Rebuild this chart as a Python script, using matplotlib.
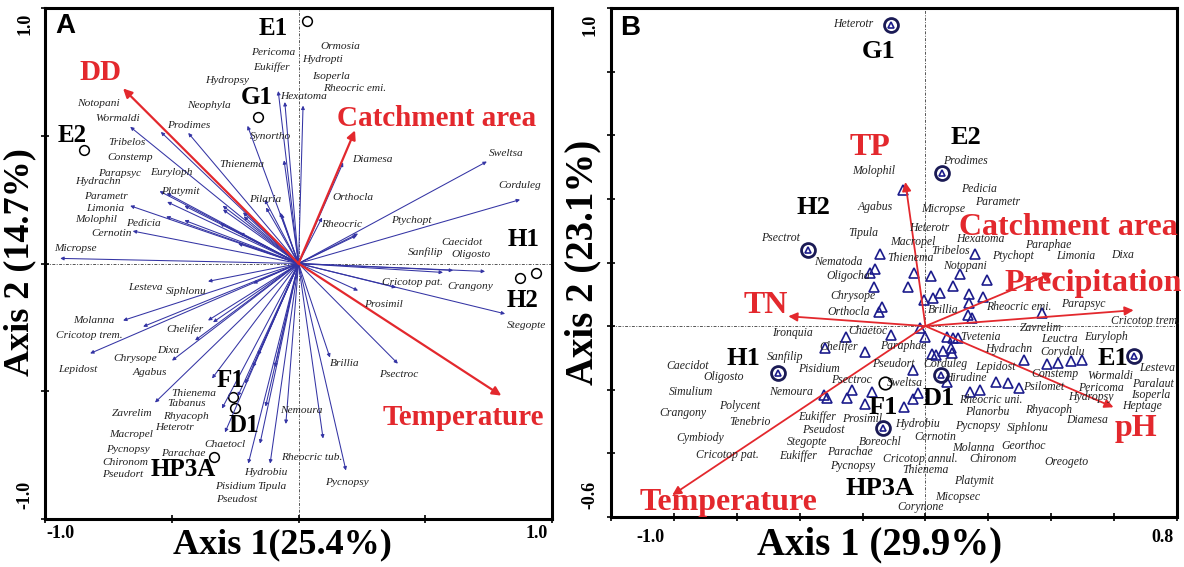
import matplotlib
matplotlib.use("Agg")
import matplotlib.pyplot as plt
import numpy as np

W, H = 1184, 567
SERIF = ["Liberation Serif", "DejaVu Serif"]
SANS = ["Liberation Sans", "DejaVu Sans"]
NAVY = "#3434a4"
TRI = "#1c1c8c"
RED = "#e3282d"

# ---------------- Panel A data ----------------
a_arrow_x = [-0.940, -0.664, -0.543, -0.435, -0.201, -0.080, -0.054, 0.018, -0.057, -0.548,
             -0.520, -0.664, -0.518, -0.450, -0.522, -0.450, -0.654, -0.299, -0.216, -0.133,
             -0.068, -0.231, -0.298, -0.310, -0.238, -0.073, -0.219, -0.128,
             0.176, 0.093, 0.743, 0.874, 0.235, 0.230,
             0.736, 0.610, 0.570, 0.385, 0.815, 0.235, 0.392, 0.124, 0.187, 0.097,
             -0.050, -0.112, -0.152, -0.198,
             -0.357, -0.179, -0.692, -0.613, -0.822, -0.357, -0.337, -0.408, -0.499, -0.566,
             -0.341, -0.302, -0.290, -0.210, -0.093, -0.160, -0.180, -0.240, -0.130]
a_arrow_y = [0.020, 0.535, 0.515, 0.511, 0.539, 0.675, 0.632, 0.618, 0.404, 0.283,
             0.275, 0.226, 0.241, 0.226, 0.184, 0.169, 0.127, 0.226, 0.184, 0.250,
             0.194, 0.120, 0.211, 0.157, 0.078, 0.200, 0.200, 0.219,
             0.395, 0.180, 0.399, 0.250, 0.117, 0.110,
             -0.031, -0.027, -0.035, -0.094, -0.197, -0.106, -0.392, -0.368, -0.810, -0.685,
             -0.628, -0.783, -0.705, -0.783,
             -0.070, -0.078, -0.223, -0.247, -0.352, -0.223, -0.230, -0.301, -0.380, -0.544,
             -0.450, -0.568, -0.661, -0.470, -0.406, -0.360, -0.406, -0.520, -0.560]

a_species = ["Ormosia", "Pericoma", "Hydropti", "Eukiffer", "Isoperla", "Hydropsy", "Rheocric emi.",
             "Hexatoma", "Neophyla", "Notopani", "Wormaldi", "Prodimes", "Synortho", "Tribelos",
             "Constemp", "Thienema", "Diamesa", "Sweltsa", "Parapsyc", "Euryloph", "Hydrachn",
             "Corduleg", "Platymit", "Parametr", "Orthocla", "Pilaria", "Limonia", "Molophil",
             "Pedicia", "Ptychopt", "Rheocric", "Cernotin", "Caecidot", "Sanfilip", "Oligosto",
             "Micropse", "Cricotop pat.", "Crangony", "Lesteva", "Siphlonu", "Prosimil", "Stegopte",
             "Molanna", "Chelifer", "Cricotop trem.", "Dixa", "Chrysope", "Brillia", "Lepidost",
             "Agabus", "Psectroc", "Thienema", "Tabanus", "Nemoura", "Zavrelim", "Rhyacoph",
             "Heterotr", "Macropel", "Chaetocl", "Pycnopsy", "Parachae", "Rheocric tub.",
             "Chironom", "Hydrobiu", "Pseudort", "Pycnopsy", "Pisidium", "Tipula", "Pseudost"]
a_species_x = [0.166, -0.100, 0.094, -0.106, 0.127, -0.281, 0.222, 0.021, -0.352, -0.790, -0.714,
               -0.435, -0.110, -0.676, -0.664, -0.223, 0.290, 0.818, -0.707, -0.503, -0.793, 0.871,
               -0.468, -0.759, 0.214, -0.133, -0.764, -0.797, -0.613, 0.444, 0.169, -0.737, 0.645,
               0.501, 0.682, -0.880, 0.448, 0.679, -0.604, -0.442, 0.335, 0.901, -0.809, -0.450,
               -0.827, -0.515, -0.646, 0.184, -0.870, -0.586, 0.396, -0.412, -0.442, 0.011, -0.658,
               -0.445, -0.488, -0.661, -0.291, -0.672, -0.453, 0.051, -0.684, -0.128, -0.694, 0.192,
               -0.251, -0.106, -0.246]
a_species_y = [0.850, 0.824, 0.800, 0.770, 0.732, 0.717, 0.686, 0.653, 0.618, 0.625, 0.568, 0.542,
               0.497, 0.475, 0.414, 0.387, 0.407, 0.430, 0.354, 0.357, 0.319, 0.307, 0.280, 0.262,
               0.259, 0.252, 0.215, 0.172, 0.155, 0.167, 0.151, 0.117, 0.084, 0.044, 0.034, 0.060,
               -0.073, -0.091, -0.094, -0.111, -0.162, -0.241, -0.222, -0.258, -0.282, -0.339,
               -0.371, -0.390, -0.414, -0.428, -0.436, -0.507, -0.549, -0.575, -0.589, -0.599,
               -0.642, -0.670, -0.709, -0.727, -0.745, -0.760, -0.777, -0.817, -0.827, -0.858,
               -0.874, -0.874, -0.924]

a_sites = ["E1", "G1", "E2", "H1", "H2", "F1", "D1", "HP3A"]
a_site_x = [0.033, -0.160, -0.845, 0.937, 0.874, -0.258, -0.250, -0.333]
a_site_y = [0.949, 0.575, 0.443, -0.039, -0.055, -0.521, -0.567, -0.759]
a_site_lx = [-0.100, -0.164, -0.893, 0.886, 0.882, -0.270, -0.215, -0.455]
a_site_ly = [0.920, 0.650, 0.501, 0.094, -0.145, -0.458, -0.634, -0.808]

a_env = ["DD", "Catchment area", "Temperature"]
a_env_x = [-0.692, 0.223, 0.800]
a_env_y = [0.685, 0.521, -0.517]
a_env_lx = [-0.783, 0.546, 0.649]
a_env_ly = [0.748, 0.567, -0.602]

# ---------------- Panel B data ----------------
b_tri_x = [-0.070, -0.146, -0.162, -0.175, -0.165, -0.137, -0.149, -0.035, 0.019, -0.057,
           -0.006, 0.025, 0.045, 0.089, 0.111, 0.159, 0.137, 0.140, 0.134, 0.149, 0.197, 0.184,
           -0.016, -0.003, -0.254, -0.111, -0.318, -0.191, 0.022, 0.032, 0.057, -0.038, 0.070,
           0.089, 0.105, 0.143, 0.175, -0.169, -0.232, -0.251, -0.312, -0.324, -0.191, -0.025,
           -0.038, -0.067, 0.067, 0.372, 0.315, 0.388, 0.420, 0.464, 0.499, 0.223, 0.261, 0.296,
           0.080, 0.086]
b_tri_y = [0.428, 0.226, 0.179, 0.167, 0.123, 0.060, 0.044, 0.167, 0.157, 0.123,
           0.082, 0.088, 0.104, 0.126, 0.164, 0.226, 0.101, 0.072, 0.035, 0.025, 0.145, 0.091,
           -0.006, -0.035, -0.035, -0.028, -0.069, -0.082, -0.088, -0.091, -0.079, -0.138, -0.035,
           -0.038, -0.038, -0.208, -0.201, -0.208, -0.201, -0.226, -0.226, -0.217, -0.245, -0.211,
           -0.230, -0.255, -0.176, 0.041, -0.107, -0.119, -0.116, -0.110, -0.107, -0.176, -0.179,
           -0.195, -0.070, -0.085]

b_species = ["Heterotr", "Molophil", "Prodimes", "Pedicia", "Parametr", "Agabus", "Micropse",
             "Heterotr", "Tipula", "Psectrot", "Hexatoma", "Macropel", "Paraphae", "Tribelos",
             "Ptychopt", "Limonia", "Dixa", "Thienema", "Nematoda", "Notopani", "Oligocha",
             "Chrysope", "Rheocric emi.", "Parapsyc", "Brillia", "Orthocla", "Cricotop trem.",
             "Zavrelim", "Chaetoc", "Ironquia", "Tvetenia", "Leuctra", "Euryloph", "Chelifer",
             "Paraphae", "Hydrachn", "Corydalu", "Sanfilip", "Caecidot", "Pisidium", "Pseudort",
             "Corduleg", "Lepidost", "Lesteva", "Constemp", "Wormaldi", "Oligosto", "Hirudine",
             "Psectroc", "Sweltsa", "Paralaut", "Psilomet", "Pericoma", "Simulium", "Nemoura",
             "Isoperla", "Hydropsy", "Rheocric uni.", "Polycent", "Heptage", "Rhyacoph",
             "Planorbu", "Crangony", "Eukiffer", "Prosimil", "Diamesa", "Tenebrio", "Hydrobiu",
             "Pycnopsy", "Siphlonu", "Pseudost", "Cernotin", "Cymbiody", "Stegopte", "Boreochl",
             "Georthoc", "Molanna", "Parachae", "Cricotop pat.", "Eukiffer", "Cricotop annul.",
             "Chironom", "Oreogeto", "Pycnopsy", "Thienema", "Platymit", "Micopsec", "Corynone"]
b_species_x = [-0.229, -0.165, 0.127, 0.169, 0.229, -0.159, 0.057, 0.013, -0.197, -0.461, 0.175,
               -0.041, 0.391, 0.080, 0.277, 0.477, 0.627, -0.048, -0.277, 0.127, -0.245, -0.232,
               0.296, 0.503, 0.057, -0.245, 0.700, 0.366, -0.184, -0.423, 0.175, 0.426, 0.573,
               -0.277, -0.070, 0.264, 0.436, -0.445, -0.757, -0.340, -0.102, 0.064, 0.223, 0.738,
               0.413, 0.588, -0.643, 0.127, -0.235, -0.064, 0.725, 0.375, 0.557, -0.747, -0.426,
               0.716, 0.525, 0.207, -0.592, 0.690, 0.391, 0.197, -0.770, -0.344, -0.200, 0.515,
               -0.557, -0.025, 0.165, 0.324, -0.324, 0.032, -0.716, -0.375, -0.143, 0.312, 0.153,
               -0.239, -0.630, -0.404, -0.016, 0.216, 0.448, -0.232, 0.000, 0.153, 0.102, -0.016]
b_species_y = [0.950, 0.487, 0.519, 0.431, 0.390, 0.374, 0.368, 0.308, 0.292, 0.277, 0.274,
               0.264, 0.255, 0.236, 0.220, 0.220, 0.223, 0.214, 0.201, 0.189, 0.157, 0.094,
               0.060, 0.069, 0.050, 0.044, 0.016, -0.006, -0.016, -0.022, -0.035, -0.041, -0.035,
               -0.066, -0.063, -0.072, -0.082, -0.097, -0.126, -0.135, -0.119, -0.119, -0.129,
               -0.132, -0.151, -0.157, -0.160, -0.163, -0.170, -0.179, -0.183, -0.192, -0.195,
               -0.208, -0.208, -0.218, -0.223, -0.233, -0.252, -0.252, -0.264, -0.270, -0.274,
               -0.286, -0.292, -0.296, -0.302, -0.308, -0.314, -0.321, -0.327, -0.349, -0.352,
               -0.365, -0.365, -0.377, -0.384, -0.396, -0.406, -0.409, -0.418, -0.418, -0.428,
               -0.440, -0.453, -0.487, -0.538, -0.569]

b_sites = ["G1", "E2", "H2", "H1", "E1", "F1", "D1", "HP3A"]
b_site_x = [-0.111, 0.054, -0.375, -0.468, 0.662, -0.130, 0.051, -0.134]
b_site_y = [0.947, 0.481, 0.239, -0.148, -0.094, -0.179, -0.154, -0.321]
b_site_tri = [True, True, True, True, True, False, True, True]
b_site_lx = [-0.149, 0.130, -0.356, -0.579, 0.595, -0.134, 0.041, -0.143]
b_site_ly = [0.862, 0.594, 0.374, -0.101, -0.101, -0.255, -0.226, -0.509]

b_env = ["TP", "Catchment area", "Precipitation", "TN", "Temperature", "pH"]
b_env_x = [-0.064, 0.404, 0.662, -0.436, -0.805, 0.598]
b_env_y = [0.453, 0.167, 0.050, 0.031, -0.531, -0.255]
b_env_lx = [-0.175, 0.455, 0.534, -0.509, -0.627, 0.668]
b_env_ly = [0.563, 0.311, 0.135, 0.066, -0.553, -0.321]

# ---------------- Figure ----------------
fig = plt.figure(figsize=(W / 100, H / 100), dpi=100)
axA = fig.add_axes([45 / W, 1 - 519 / H, (552 - 45) / W, (519 - 8) / H])
axB = fig.add_axes([611 / W, 1 - 517 / H, (1177 - 611) / W, (517 - 8) / H])


def style_axes(ax, xlim, ylim, xt, yt):
    ax.set_xlim(*xlim)
    ax.set_ylim(*ylim)
    ax.set_xticks(xt)
    ax.set_yticks(yt)
    ax.set_xticklabels([])
    ax.set_yticklabels([])
    ax.tick_params(direction="inout", length=6, width=1.2, top=False, right=False)
    for s in ax.spines.values():
        s.set_linewidth(2.2)
    ax.axhline(0, color="#555555", lw=0.7, ls=(0, (3, 1.5, 1, 1.5)), zorder=0)
    ax.axvline(0, color="#555555", lw=0.7, ls=(0, (3, 1.5, 1, 1.5)), zorder=0)


def arrow(ax, x, y, color, lw, ms):
    ax.annotate("", xy=(x, y), xytext=(0, 0),
                arrowprops=dict(arrowstyle="-|>", color=color, lw=lw, mutation_scale=ms,
                                shrinkA=0, shrinkB=0))


# Panel A
style_axes(axA, (-1, 1), (-1, 1), [-1, -0.5, 0, 0.5, 1], [-1, -0.5, 0, 0.5, 1])
for x, y in zip(a_arrow_x, a_arrow_y):
    arrow(axA, x, y, NAVY, 0.75, 5)
for x, y in zip(a_env_x, a_env_y):
    arrow(axA, x, y, RED, 1.6, 13)
for name, x, y in zip(a_species, a_species_x, a_species_y):
    axA.text(x, y, name, fontsize=8.2, style="italic", family=SERIF, color="#222222",
             ha="center", va="center")
axA.plot(a_site_x, a_site_y, "o", mfc="none", mec="black", ms=7, mew=1.1)
for name, x, y in zip(a_sites, a_site_lx, a_site_ly):
    axA.text(x, y, name, fontsize=18, weight="bold", family=SERIF, ha="center", va="center")
for name, x, y in zip(a_env, a_env_lx, a_env_ly):
    axA.text(x, y, name, fontsize=21, weight="bold", family=SERIF, color=RED,
             ha="center", va="center")

# Panel B
style_axes(axB, (-1.0, 0.8), (-0.6, 1.0), np.arange(-1.0, 0.81, 0.2), np.arange(-0.6, 1.01, 0.2))
axB.plot(b_tri_x, b_tri_y, "^", mfc="none", mec=TRI, ms=7, mew=1.2, zorder=3)
for x, y in zip(b_env_x, b_env_y):
    arrow(axB, x, y, RED, 1.3, 13)
for name, x, y in zip(b_species, b_species_x, b_species_y):
    axB.text(x, y, name, fontsize=8.5, style="italic", family=SERIF, color="#222222",
             ha="center", va="center")
for x, y, t in zip(b_site_x, b_site_y, b_site_tri):
    if t:
        axB.plot(x, y, "o", mfc="none", mec="#1a1a55", ms=10, mew=2.0, zorder=4)
        axB.plot(x, y, "^", mfc="none", mec=TRI, ms=5, mew=1.2, zorder=4)
    else:
        axB.plot(x, y, "o", mfc="none", mec="black", ms=9, mew=1.2, zorder=4)
for name, x, y in zip(b_sites, b_site_lx, b_site_ly):
    axB.text(x, y, name, fontsize=19, weight="bold", family=SERIF, ha="center", va="center")
for name, x, y in zip(b_env, b_env_lx, b_env_ly):
    axB.text(x, y, name, fontsize=23, weight="bold", family=SERIF, color=RED,
             ha="center", va="center")


def ftext(px, py, s, **kw):
    fig.text(px / W, 1 - py / H, s, ha="center", va="center", **kw)


tick_kw = dict(fontsize=13, weight="bold", family=SERIF)
# Panel A tick labels
ftext(60, 533, "-1.0", **tick_kw)
ftext(537, 533, "1.0", **tick_kw)
ftext(25, 24, "1.0", rotation=90, **tick_kw)
ftext(25, 495, "-1.0", rotation=90, **tick_kw)
# Panel B tick labels
ftext(650, 537, "-1.0", **tick_kw)
ftext(1163, 537, "0.8", **tick_kw)
ftext(590, 25, "1.0", rotation=90, **tick_kw)
ftext(590, 495, "-0.6", rotation=90, **tick_kw)

# Axis titles
ftext(282, 545, "Axis 1(25.4%)", fontsize=26, weight="bold", family=SERIF)
ftext(20, 262, "Axis 2 (14.7%)", fontsize=26, weight="bold", family=SERIF, rotation=90)
ftext(880, 545, "Axis 1 (29.9%)", fontsize=28, weight="bold", family=SERIF)
ftext(583, 262, "Axis 2 (23.1%)", fontsize=28, weight="bold", family=SERIF, rotation=90)

# Panel letters
ftext(65, 26, "A", fontsize=20, weight="bold", family=SANS)
ftext(630, 28, "B", fontsize=20, weight="bold", family=SANS)

fig.savefig("out.png", dpi=100)
